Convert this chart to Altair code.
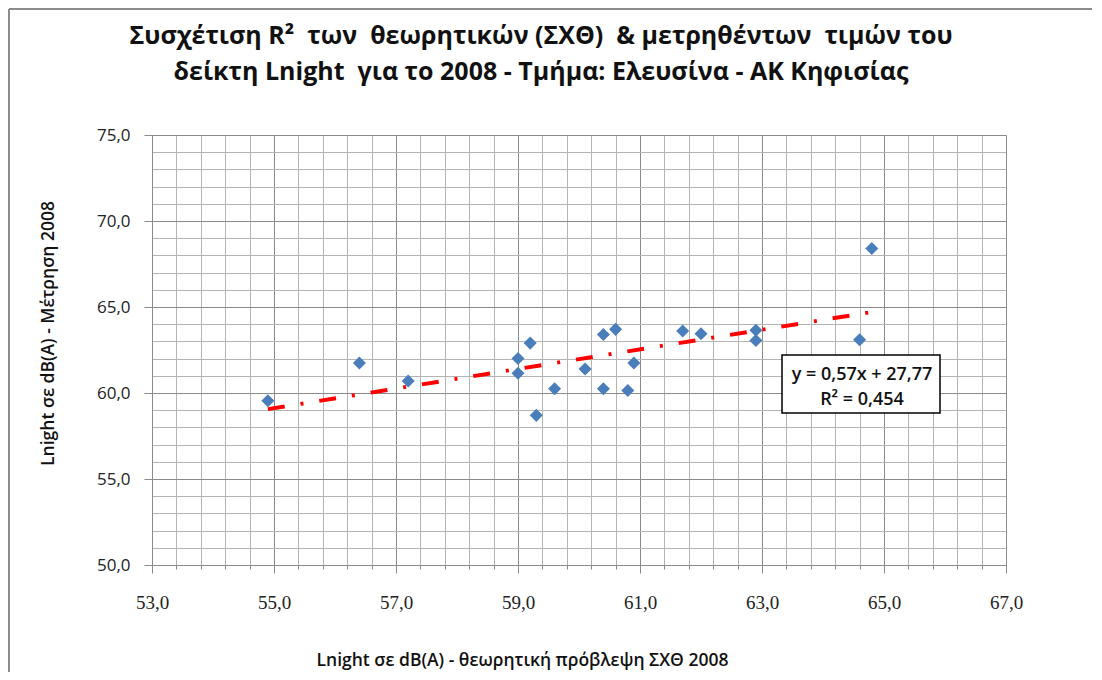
import altair as alt
import pandas as pd

# ---- data -------------------------------------------------------------
X_PRED = [54.9, 56.4, 57.2, 59.0, 59.0, 59.2, 59.3, 59.6, 60.1, 60.4,
          60.4, 60.6, 60.8, 60.9, 61.7, 62.0, 62.9, 62.9, 64.6, 64.8]
Y_MEAS = [59.55, 61.75, 60.7, 62.0, 61.15, 62.9, 58.7, 60.25, 61.4, 63.4,
          60.25, 63.7, 60.15, 61.75, 63.6, 63.45, 63.65, 63.05, 63.1, 68.4]

SLOPE = 0.57
INTERCEPT = 27.77
R_SQUARED = 0.454

X_DOMAIN = [53, 67]
Y_DOMAIN = [50, 75]
X_TICKS = [round(53 + 0.4 * i, 1) for i in range(36)]   # major every 2, minor every 0.4
Y_TICKS = list(range(50, 76))                            # major every 5, minor every 1

TITLE_LINES = [
    "Συσχέτιση R²\u00a0 των\u00a0 θεωρητικών (ΣΧΘ)\u00a0 & μετρηθέντων\u00a0 τιμών του",
    "δείκτη Lnight\u00a0 για το 2008 - Τμήμα: Ελευσίνα - ΑΚ Κηφισίας",
]
X_TITLE = "Lnight σε dB(A) - θεωρητική πρόβλεψη ΣΧΘ 2008"
Y_TITLE = "Lnight σε dB(A) - Μέτρηση 2008"

EQ_LINES = [
    ("y = %.2fx + %.2f" % (SLOPE, INTERCEPT)).replace(".", ","),
    ("R² = %.3f" % R_SQUARED).replace(".", ","),
]

# ---- tables -------------------------------------------------------------
points = pd.DataFrame({"x": X_PRED, "y": Y_MEAS})
xs = [min(X_PRED), max(X_PRED)]
trend = pd.DataFrame({"x": xs, "y": [SLOPE * v + INTERCEPT for v in xs]})
one = pd.DataFrame({"k": [0]})

SANS = "Open Sans"

x_major = "abs(datum.value % 2 - 1) < 0.01"
y_major = "datum.value % 5 == 0"

x_axis = alt.Axis(
    values=X_TICKS,
    tickCount=len(X_TICKS),
    grid=True,
    gridColor=alt.condition(x_major, alt.value("#8a8a8a"), alt.value("#b4b4b4")),
    gridWidth=1,
    tickColor="#8a8a8a",
    tickSize=alt.condition(x_major, alt.value(8), alt.value(4)),
    domainColor="#8a8a8a",
    labelExpr=x_major + " ? replace(format(datum.value, '.1f'), '.', ',') : ''",
    labelFont="Liberation Serif",
    labelFontSize=19,
    labelColor="#222222",
    labelPadding=20,
    labelFlush=False,
    labelOverlap=False,
    title=X_TITLE,
    titleFont=SANS,
    titleFontSize=17.5,
    titleFontWeight=600,
    titleColor="#111111",
    titleX=370,
    titleY=100,
    titleAlign="center",
    titleBaseline="alphabetic",
)

y_axis = alt.Axis(
    values=Y_TICKS,
    tickCount=len(Y_TICKS),
    grid=True,
    gridColor=alt.condition(y_major, alt.value("#8a8a8a"), alt.value("#b4b4b4")),
    gridWidth=1,
    tickColor="#8a8a8a",
    tickSize=alt.condition(y_major, alt.value(8), alt.value(0)),
    domainColor="#8a8a8a",
    labelExpr=y_major + " ? replace(format(datum.value, '.1f'), '.', ',') : ''",
    labelFont=SANS,
    labelFontSize=17,
    labelColor="#222222",
    labelPadding=14,
    labelOverlap=False,
    title=Y_TITLE,
    titleFont=SANS,
    titleFontSize=17.5,
    titleFontWeight=600,
    titleColor="#111111",
    titleX=-99,
    titleY=198,
    titleAngle=270,
    titleAlign="center",
    titleBaseline="alphabetic",
)

xenc = alt.X("x:Q", scale=alt.Scale(domain=X_DOMAIN, nice=False, zero=False), axis=x_axis)
yenc = alt.Y("y:Q", scale=alt.Scale(domain=Y_DOMAIN, nice=False, zero=False), axis=y_axis)

frame_left = alt.Chart(one).mark_rule(color="#8c8c8c", strokeWidth=2).encode(
    x=alt.value(-143), y=alt.value(-126), y2=alt.value(700)
)
frame_top = alt.Chart(one).mark_rule(color="#8c8c8c", strokeWidth=2).encode(
    x=alt.value(-143), x2=alt.value(1000), y=alt.value(-126)
)

scatter = alt.Chart(points).mark_point(
    shape="diamond", filled=True, size=170, color="#4a7ebb", opacity=1
).encode(x=xenc, y=yenc)

trendline = alt.Chart(trend).mark_line(
    color="#ff0000", strokeWidth=4, strokeDash=[17, 16, 3, 16], strokeCap="butt"
).encode(x="x:Q", y="y:Q")

eq_box = alt.Chart(one).mark_rect(
    fill="white", stroke="#000000", strokeWidth=1.5
).encode(
    x=alt.value(630), y=alt.value(220), x2=alt.value(788), y2=alt.value(278)
)

eq_text = alt.Chart(one).mark_text(
    text=EQ_LINES, font=SANS, fontSize=18, fontWeight=600, color="#111111",
    align="center", baseline="alphabetic", lineHeight=25
).encode(x=alt.value(710), y=alt.value(245))

title_text = alt.Chart(one).mark_text(
    text=TITLE_LINES, font=SANS, fontSize=25, fontWeight="bold", color="#111111",
    align="center", baseline="alphabetic", lineHeight=36
).encode(x=alt.value(389), y=alt.value(-91))

chart = alt.layer(
    frame_left, frame_top, scatter, trendline, eq_box, eq_text, title_text
).properties(
    width=854,
    height=430,
    autosize=alt.AutoSizeParams(type="none"),
    padding={"left": 144, "top": 127, "right": 86, "bottom": 107},
    background="white",
).configure_view(stroke=None)

chart.save("out.html", embed_options={"renderer": "svg", "actions": False})
